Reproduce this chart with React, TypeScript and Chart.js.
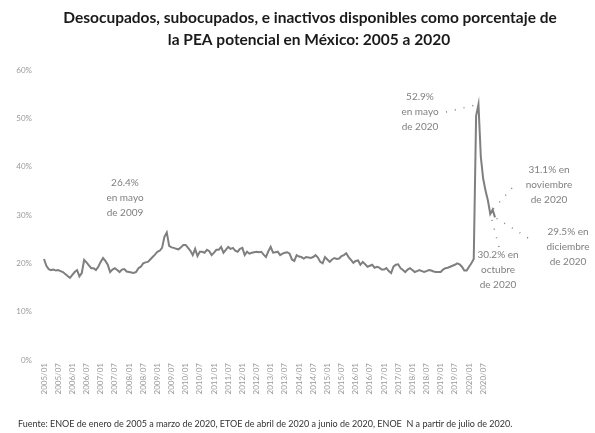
import React, { useEffect, useRef } from 'react';
import { Chart, registerables } from 'chart.js';

Chart.register(...registerables);

const titleLines = [
  'Desocupados, subocupados, e inactivos disponibles como porcentaje de',
  'la PEA potencial en México: 2005 a 2020',
];
const footnote =
  'Fuente: ENOE de enero de 2005 a marzo de 2020, ETOE de abril de 2020 a junio de 2020, ENOE  N a partir de julio de 2020.';

const years = [2005, 2006, 2007, 2008, 2009, 2010, 2011, 2012, 2013, 2014, 2015, 2016, 2017, 2018, 2019, 2020];
const months = ['01', '02', '03', '04', '05', '06', '07', '08', '09', '10', '11', '12'];

const y2005 = [20.9, 19.5, 18.8, 18.6, 18.7, 18.5, 18.6, 18.4, 18.2, 17.8, 17.4, 17.0];
const y2006 = [17.6, 18.2, 18.6, 17.3, 18.0, 20.7, 20.2, 19.6, 19.0, 19.0, 18.6, 19.3];
const y2007 = [20.3, 21.1, 20.5, 19.7, 18.2, 18.7, 19.0, 18.6, 18.2, 18.7, 18.8, 18.3];
const y2008 = [18.2, 18.1, 18.0, 18.2, 19.0, 19.3, 20.0, 20.2, 20.3, 20.8, 21.3, 21.8];
const y2009 = [22.4, 22.6, 23.2, 25.5, 26.4, 23.6, 23.3, 23.2, 23.0, 22.9, 23.3, 23.8];
const y2010 = [23.8, 23.2, 22.6, 21.7, 23.0, 21.5, 22.4, 22.4, 22.2, 22.8, 22.5, 21.7];
const y2011 = [22.2, 22.8, 22.8, 23.4, 22.2, 22.8, 23.4, 23.0, 23.2, 22.6, 22.4, 23.0];
const y2012 = [23.2, 21.7, 22.4, 22.0, 22.2, 22.3, 22.4, 22.3, 22.4, 21.8, 21.3, 22.5];
const y2013 = [23.4, 22.2, 22.3, 22.4, 21.7, 22.0, 22.2, 22.3, 22.0, 20.8, 20.5, 21.7];
const y2014 = [21.4, 21.3, 21.0, 21.3, 21.2, 21.1, 21.3, 21.7, 21.2, 20.3, 20.0, 21.3];
const y2015 = [20.8, 20.3, 20.8, 21.1, 20.9, 21.0, 21.5, 21.7, 22.1, 21.3, 20.7, 20.1];
const y2016 = [20.5, 20.6, 19.7, 20.3, 19.8, 19.3, 19.5, 19.7, 19.1, 19.3, 19.1, 18.7];
const y2017 = [18.7, 19.0, 18.4, 18.0, 19.3, 19.7, 19.8, 19.0, 18.6, 18.2, 18.7, 19.0];
const y2018 = [18.6, 18.2, 18.4, 18.6, 18.4, 18.2, 18.4, 18.6, 18.5, 18.3, 18.2, 18.2];
const y2019 = [18.2, 18.7, 19.0, 19.1, 19.3, 19.5, 19.7, 20.0, 19.8, 19.3, 18.5, 18.5];
const y2020 = [19.3, 20.0, 20.9, 50.5, 52.9, 42.0, 37.5, 35.0, 33.0, 30.2, 31.1, 29.5];

const values = [
  ...y2005, ...y2006, ...y2007, ...y2008, ...y2009, ...y2010, ...y2011, ...y2012,
  ...y2013, ...y2014, ...y2015, ...y2016, ...y2017, ...y2018, ...y2019, ...y2020,
];
const labels = years.flatMap((y) => months.map((m) => `${y}/${m}`));

const yTicks = [0, 10, 20, 30, 40, 50, 60];

// annotations: label lines, index of the point, text centre, leader line start
const annotations = [
  { lines: ['26.4%', 'en mayo', 'de 2009'], idx: 52, x: 125, y: 183, leader: null },
  { lines: ['52.9%', 'en mayo', 'de 2020'], idx: 184, x: 420, y: 97, leader: [446, 112] },
  { lines: ['31.1% en', 'noviembre', 'de 2020'], idx: 190, x: 549, y: 170, leader: [512, 188] },
  { lines: ['29.5% en', 'diciembre', 'de 2020'], idx: 191, x: 568, y: 232, leader: [528, 238] },
  { lines: ['30.2% en', 'octubre', 'de 2020'], idx: 189, x: 498, y: 255, leader: [499, 247] },
];

const FONT = 'Lato, "Open Sans", sans-serif';

const textPlugin = {
  id: 'textPlugin',
  afterDraw(chart: any) {
    const ctx = chart.ctx;
    ctx.save();
    // title
    ctx.fillStyle = '#1a1a1a';
    ctx.font = `bold 15.5px ${FONT}`;
    ctx.textAlign = 'center';
    ctx.textBaseline = 'middle';
    ctx.fillText(titleLines[0], 310, 18);
    ctx.fillText(titleLines[1], 309, 40);

    // footnote
    ctx.font = `9px ${FONT}`;
    ctx.textAlign = 'left';
    ctx.fillStyle = '#333';
    ctx.fillText(footnote, 18, 424);

    // annotations
    const meta = chart.getDatasetMeta(0);
    ctx.font = `10px ${FONT}`;
    ctx.fillStyle = '#808080';
    ctx.textAlign = 'center';
    annotations.forEach((a) => {
      a.lines.forEach((l, k) => ctx.fillText(l, a.x, a.y + k * 15));
      if (a.leader) {
        const p = meta.data[a.idx];
        ctx.beginPath();
        ctx.setLineDash([1, 8]);
        ctx.strokeStyle = '#808080';
        ctx.lineWidth = 1.5;
        ctx.moveTo(a.leader[0], a.leader[1]);
        ctx.lineTo(p.x, p.y);
        ctx.stroke();
        ctx.setLineDash([]);
      }
    });
    ctx.restore();
  },
};

export default function App() {
  const ref = useRef<HTMLCanvasElement>(null);
  useEffect(() => {
    if (!ref.current) return;
    const chart = new Chart(ref.current, {
      type: 'line',
      data: {
        labels,
        datasets: [
          {
            data: values,
            borderColor: '#7f7f7f',
            borderWidth: 2,
            pointRadius: 0,
            tension: 0,
            fill: false,
          },
        ],
      },
      options: {
        responsive: false,
        animation: false,
        layout: { padding: { top: 70, right: 100, left: 0, bottom: 0 } },
        plugins: { legend: { display: false }, tooltip: { enabled: false }, title: { display: false } },
        scales: {
          x: {
            type: 'category',
            offset: false,
            grid: { display: false, drawTicks: false },
            border: { display: false },
            ticks: {
              autoSkip: false,
              minRotation: 90,
              maxRotation: 90,
              padding: 3,
              color: '#999999',
              font: { family: FONT, size: 8 },
              callback: (_v: any, i: number) => (i % 6 === 0 ? labels[i] : null),
            },
            afterFit: (s: any) => {
              s.height = 73;
            },
          },
          y: {
            min: 0,
            max: 60,
            grid: { display: false, drawTicks: false },
            border: { display: false },
            afterBuildTicks: (s: any) => {
              s.ticks = yTicks.map((v) => ({ value: v }));
            },
            ticks: {
              padding: 12,
              color: '#999999',
              font: { family: FONT, size: 8 },
              callback: (v: any) => `${v}%`,
            },
            afterFit: (s: any) => {
              s.width = 44;
            },
          },
        },
      },
      plugins: [textPlugin],
    });
    return () => chart.destroy();
  }, []);
  return (
    <div style={{ position: 'absolute', left: 0, top: 0, width: 595, height: 433, background: '#fff' }}>
      <canvas ref={ref} width={595} height={433} />
    </div>
  );
}
